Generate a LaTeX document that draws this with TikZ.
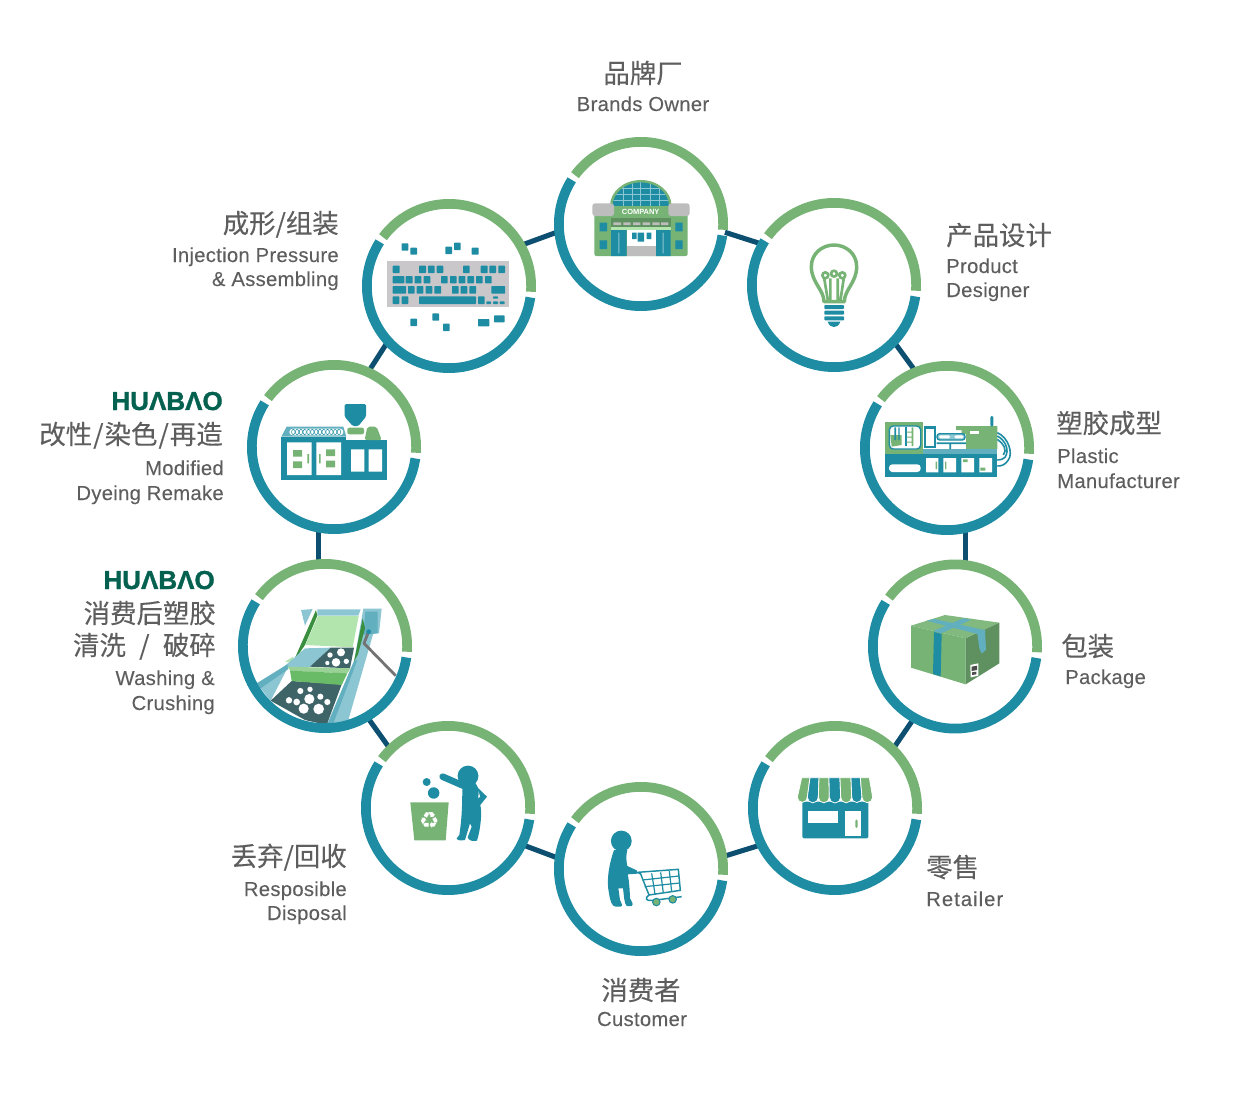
\documentclass[tikz,border=0pt]{standalone}
\usepackage{fontspec}
\setmainfont{Liberation Sans}
\newfontfamily\cjk{Noto Sans CJK SC}[FakeBold=0.25]
\newfontfamily\symb{DejaVu Sans}
\newfontfamily\latinsp{Liberation Sans}[LetterSpace=1.4,FakeBold=0.12]
\newfontfamily\logofont{Liberation Sans}[BoldFont={Liberation Sans Bold},BoldFeatures={FakeBold=1.2}]
\definecolor{tealc}{HTML}{1E8CA3}
\definecolor{greenc}{HTML}{76B374}
\definecolor{navy}{HTML}{0C4F70}
\definecolor{txt}{HTML}{5E5E5E}
\definecolor{logoc}{HTML}{04614F}
\definecolor{lblue}{HTML}{8CC6D3}
\definecolor{mblue}{HTML}{62AFBF}
\definecolor{slate}{HTML}{3F6468}
\definecolor{greyc}{HTML}{BDBDBD}
\definecolor{kbgrey}{HTML}{C9C7C9}
\definecolor{darkg}{HTML}{3A8F3F}
\definecolor{paleg}{HTML}{B2E5AD}
\definecolor{boxside}{HTML}{5F9160}
\tikzset{
  ringnode/.style={circle,minimum size=130.5pt,inner sep=0pt,outer sep=0pt},
  greenarc/.style={draw=greenc,line width=7.3pt},
  tealarc/.style={draw=tealc,line width=7.3pt},
  link/.style={draw=navy,line width=3.8pt,shorten <=-2pt,shorten >=-2pt},
  zh/.style={font=\cjk\fontsize{19.8pt}{20pt}\selectfont,text=txt,inner sep=0pt},
  en/.style={font=\latinsp\fontsize{15.2pt}{16pt}\selectfont,text=txt,inner sep=0pt},
  logo/.style={font=\logofont\fontsize{19.5pt}{20pt}\selectfont\bfseries,text=logoc,inner sep=0pt},
  zm/.style 2 args={shift={(#1,#2)},x=0.25pt,y=-0.25pt},
  key/.style={fill=tealc,rounded corners=0.5pt},
}
\newcommand\ringarcs[1]{%
  \path[greenarc] (#1.center) ++(-4:61.6pt) arc[start angle=-4,end angle=143.5,radius=61.6pt];
  \path[tealarc] (#1.center) ++(147.5:61.6pt) arc[start angle=147.5,end angle=352,radius=61.6pt];
}
\newcommand\kk[4]{\path[key] (#1,#2) rectangle (#3,#4);}
\begin{document}
\begin{tikzpicture}[x=0.75pt,y=-0.75pt]
\useasboundingbox (0,0) rectangle (1250,1093);
% ring nodes
\node[ringnode] (brand) at (641,224) {};
\node[ringnode] (bulb) at (834,285) {};
\node[ringnode] (plastic) at (947,448) {};
\node[ringnode] (pack) at (955,646.5) {};
\node[ringnode] (retail) at (835,808) {};
\node[ringnode] (cust) at (641,869) {};
\node[ringnode] (disp) at (448,808) {};
\node[ringnode] (wash) at (325,646) {};
\node[ringnode] (modif) at (334,447) {};
\node[ringnode] (inj) at (449,286) {};
% connectors
\path[link] (brand.-6) -- (bulb.151);
\path[link] (bulb.-44.5) -- (plastic.113.6);
\path[link] (plastic.-78.7) -- (plastic.-78.7 |- pack.84);
\path[link] (pack.-120.5) -- (retail.46.8);
\path[link] (retail.206.3) -- (cust.9.2);
\path[link] (cust.172) -- (disp.-26.3);
\path[link] (disp.134) -- (wash.-59.4);
\path[link] (wash.94.6 -| modif.-100.5) -- (modif.-100.5);
\path[link] (modif.65.5) -- (inj.223.6);
\path[link] (inj.29.5) -- (brand.186);

% ---- brand icon
\begin{scope}[zm={540}{120}]
\fill[greenc] (210,258) arc[start angle=180,end angle=0,x radius=23.1pt,y radius=19.5pt] -- cycle;
\begin{scope}
\clip (218,258) arc[start angle=180,end angle=0,x radius=21.1pt,y radius=17.7pt] -- cycle;
\fill[tealc] (210,180) rectangle (395,260);
\draw[lblue,line width=0.4pt] (210,205) -- (395,205) (210,222) -- (395,222) (210,240) -- (395,240);
\draw[lblue,line width=0.4pt] (250,180) -- (250,260) (277,180) -- (277,260) (302,180) -- (302,260) (330,180) -- (330,260) (357,180) -- (357,260);
\end{scope}
\fill[greenc,rounded corners=1.5pt] (163,258) rectangle (443,408);
\fill[greyc,rounded corners=2pt] (157,250) rectangle (222,288);
\fill[greyc,rounded corners=2pt] (385,250) rectangle (449,288);
\node[inner sep=0pt,text=white,font=\bfseries\fontsize{5.6pt}{6pt}\selectfont] (companytxt) at (302,275) {COMPANY};
\fill[boxside] (213,293) rectangle (392,320);
\fill[greyc] \foreach \a/\b in {220/243,250/272,279/301,308/330,337/359,363/385}{(\a,307) rectangle (\b,315)};
\fill[paleg] (213,320) rectangle (392,330);
\fill[tealc] (213,330) rectangle (260,408) (347,330) rectangle (392,408);
\fill[lblue] (235,338) rectangle (238,400) (368,338) rectangle (371,400);
\fill[white] (260,330) rectangle (347,378);
\fill[greyc] (260,378) rectangle (347,408);
\fill[tealc] (276,338) rectangle (290,357) (293,338) rectangle (312,365) (320,338) rectangle (334,357);
\fill[tealc] (179,308) rectangle (201,334) (179,361) rectangle (201,387) (406,308) rectangle (428,334) (406,361) rectangle (428,387);
\end{scope}

% ---- bulb icon
\begin{scope}[zm={745}{195}]
\draw[greenc,line width=2.6pt,line join=round] (237,320) .. controls (237,285) and (199,262) .. (199,215) .. controls (199,175) and (232,150) .. (267,150) .. controls (302,150) and (335,175) .. (335,215) .. controls (335,262) and (298,285) .. (298,320) -- cycle;
\draw[greenc,line width=2pt] (241,241) circle[radius=2.2pt] (267,236) circle[radius=2.2pt] (292,241) circle[radius=2.2pt];
\draw[greenc,line width=2pt] (238,252) -- (249,318) (256,250) -- (256,318) (278,250) -- (278,318) (296,252) -- (286,318);
\fill[tealc,rounded corners=0.6pt] (238,330) rectangle (297,342) (238,347) rectangle (297,359) (238,364) rectangle (297,376);
\fill[tealc] (248,380) -- (286,380) .. controls (282,392) and (274,396) .. (267,396) .. controls (260,396) and (252,392) .. (248,380) -- cycle;
\end{scope}

% ---- plastic machine
\begin{scope}[zm={855}{360}]
\fill[greenc] (91,186) rectangle (205,281);
\fill[white,draw=tealc,line width=1pt,rounded corners=3pt] (103,198) rectangle (197,267);
\fill[greenc] (106,225) -- (140,225) -- (140,255) -- (110,260) -- cycle;
\fill[tealc] (118,202) rectangle (123,240) (130,202) rectangle (134,240);
\fill[tealc] (149,202) rectangle (155,258);
\fill[greenc] (170,202) rectangle (175,258) (155,215) rectangle (170,218) (155,230) rectangle (170,233) (155,245) rectangle (170,248);
\fill[greenc] (303,198) -- (427,198) -- (427,267) -- (333,267) -- (333,222) -- (320,222) -- (320,210) -- (303,210) -- cycle;
\fill[white] (345,212) rectangle (372,222);
\fill[tealc] (207,198) rectangle (243,265);
\fill[white] (212,206) rectangle (238,258);
\fill[mblue] (205,267) rectangle (427,281);
\fill[tealc] (91,281) rectangle (427,350);
\fill[white,rounded corners=2.5pt] (102,313) rectangle (197,336);
\fill[white] (213,294) rectangle (250,337) (265,294) rectangle (303,337) (319,294) rectangle (357,337) (373,294) rectangle (411,337);
\fill[greenc] (242,305) rectangle (246,327) (270,305) rectangle (274,327) (324,298) rectangle (338,306) (376,323) rectangle (391,332);
\fill[lblue,draw=tealc,line width=1pt,rounded corners=2pt] (246,221) rectangle (330,240);
\fill[white,rounded corners=1pt] (252,226) rectangle (285,235) (298,226) rectangle (325,235);
\fill[tealc] (245,247) rectangle (333,252) (283,250) rectangle (288,267);
\fill[tealc,rounded corners=1pt] (406,168) rectangle (415,200);
\draw[tealc,line width=1.2pt] (427,218) .. controls (460,232) and (475,280) .. (460,300) .. controls (450,315) and (440,318) .. (427,318);
\draw[tealc,line width=1.2pt] (427,228) .. controls (450,240) and (465,270) .. (450,292) .. controls (445,298) and (435,300) .. (427,300);
\draw[tealc,line width=1.2pt] (427,238) .. controls (445,250) and (458,270) .. (445,285);
\end{scope}

% ---- package
\begin{scope}[zm={865}{555}]
\fill[greenc!92!white] (138,212) -- (240,180) -- (403,203) -- (302,250) -- cycle;
\fill[greenc] (138,212) -- (302,250) -- (302,388) -- (138,338) -- cycle;
\fill[boxside] (302,250) -- (403,203) -- (403,325) -- (302,388) -- cycle;
\fill[mblue] (185,197) -- (208,192) -- (362,226) -- (337,237) -- cycle;
\fill[mblue] (205,228) -- (295,190) -- (318,194) -- (228,235) -- cycle;
\fill[mblue] (337,236) -- (360,224) -- (363,284) -- (350,296) -- (343,280) -- cycle;
\fill[tealc] (207,231) -- (230,237) -- (227,364) -- (204,357) -- cycle;
\fill[white] (316,330) -- (340,325) -- (340,362) -- (317,367) -- cycle;
\fill[black!70] (320,335) -- (336,332) -- (336,345) -- (320,348) -- cycle;
\fill[black!70] (321,352) -- (334,350) -- (334,358) -- (321,360) -- cycle;
\end{scope}

% ---- retailer
\begin{scope}[zm={750}{720}]
\fill[tealc,rounded corners=1pt] (157,245) rectangle (355,355);
\fill[white] (175,274) rectangle (264,310);
\fill[white] (285,272) rectangle (332,349);
\fill[greenc,rounded corners=1pt] (316,298) rectangle (323,324);
\foreach \ta/\tb/\ba/\bb/\c in {155/180/142/172/greenc,180/207/172/205/tealc,207/237/205/238/greenc,237/270/238/272/tealc,270/303/272/305/greenc,303/331/305/336/tealc,331/358/336/368/greenc}{
  \fill[\c,draw=white,line width=0.6pt] (\ta,173) -- (\tb,173) -- (\bb,232) arc[start angle=0,end angle=-180,radius=0.125pt*(\bb-\ba)] -- cycle;
}
\end{scope}

% ---- customer
\begin{scope}[zm={550}{780}]
\fill[tealc] (214,183) circle[radius=7.8pt];
\fill[tealc] (192,210) .. controls (178,250) and (168,300) .. (177,340) .. controls (180,360) and (185,380) .. (197,380) -- (212,380) .. controls (220,377) and (214,370) .. (210,360) -- (205,325) -- (219,325) .. controls (222,345) and (222,370) .. (230,378) -- (245,378) .. controls (252,372) and (245,365) .. (240,355) .. controls (239,330) and (238,305) .. (233,283) -- (262,281) -- (260,271) -- (232,258) .. controls (228,240) and (228,225) .. (232,210) -- cycle;
\draw[tealc,line width=1.1pt] (262,277) -- (272,282) -- (297,345) -- (391,331) -- (385,268) -- cycle;
\draw[tealc,line width=0.9pt] (277,300) -- (387,288) (284,320) -- (389,309) (305,280) -- (315,342) (332,277) -- (340,339) (358,273) -- (365,335);
\draw[tealc,line width=1.1pt] (297,345) -- (290,352) .. controls (285,362) and (300,362) .. (310,361) -- (395,350);
\fill[greenc,draw=tealc,line width=0.8pt] (319,366) circle[radius=2.8pt] (368,358) circle[radius=2.8pt];
\end{scope}

% ---- disposal
\begin{scope}[zm={355}{720}]
\fill[greenc] (166,247) -- (281,247) -- (272,361) -- (178,361) -- cycle;
\node[inner sep=0pt,text=white,font=\symb\fontsize{17pt}{17pt}\selectfont] (recyc) at (223,302) {♻};
\fill[tealc] (215,186) circle[radius=3pt] (236,219) circle[radius=4.3pt];
\fill[tealc] (339,168) circle[radius=7.8pt];
\draw[tealc,line width=5pt,line cap=round] (263,170) -- (325,197);
\fill[tealc] (322,190) .. controls (322,260) and (320,300) .. (313,345) -- (305,355) .. controls (306,362) and (318,362) .. (330,360) -- (345,310) -- (350,320) -- (338,352) .. controls (340,362) and (355,365) .. (366,362) .. controls (376,330) and (382,280) .. (376,255) -- (396,230) -- (370,205) -- (362,190) -- cycle;
\fill[white] (371,214) -- (375,230) -- (370,235) -- cycle;
\end{scope}

% ---- washing
\begin{scope}[zm={230}{555}]
\begin{scope}
\clip (285,273) circle[radius=61.6pt];
\fill[lblue] (213,165) -- (248,162) -- (225,212) -- cycle;
\fill[lblue] (262,163) -- (392,163) -- (385,182) -- (262,182) -- cycle;
\fill[lblue] (400,161) -- (455,161) -- (447,235) -- (430,235) -- (355,495) -- (290,510) -- (372,320) -- cycle;
\fill[mblue] (406,170) -- (443,170) -- (443,235) -- (400,240) -- cycle;
\fill[darkg] (258,165) -- (190,320) -- (225,270) -- (262,182) -- cycle;
\fill[darkg] (398,190) -- (372,320) -- (384,298) -- (405,220) -- cycle;
\fill[paleg] (264,183) -- (386,183) -- (368,277) -- (226,270) -- cycle;
\fill[paleg] (165,320) -- (190,305) -- (188,323) -- cycle;
\fill[lblue] (225,280) -- (302,278) -- (240,336) -- (174,336) -- (122,437) -- (90,398) -- cycle;
\fill[mblue] (80,385) -- (172,328) -- (175,342) -- (92,400) -- cycle;
\fill[slate] (302,278) -- (372,278) -- (360,340) -- (240,335) -- cycle;
\fill[white] (333,292) circle[radius=3pt] (300,300) circle[radius=2pt] (318,322) circle[radius=3.2pt] (349,319) circle[radius=2pt] (292,324) circle[radius=1.6pt];
\fill[slate] (185,378) -- (335,388) -- (290,510) -- (225,495) -- (122,437) -- cycle;
\fill[white] (211,408) circle[radius=2.3pt] (240,403) circle[radius=2pt] (177,436) circle[radius=2.4pt] (200,441) circle[radius=2.5pt] (238,432) circle[radius=3.8pt] (271,425) circle[radius=2.3pt] (292,441) circle[radius=2.3pt] (221,461) circle[radius=3.8pt] (266,462) circle[radius=4pt];
\fill[paleg!60!greenc] (172,335) -- (362,340) -- (352,355) -- (182,348) -- cycle;
\fill[greenc!90!green] (180,347) -- (352,355) -- (335,390) -- (185,378) -- cycle;
\fill[mblue] (292,510) -- (372,318) -- (382,315) -- (310,505) -- cycle;
\draw[black!55,line width=2.1pt,line join=round] (415,232) -- (402,265) -- (497,362);
\fill[tealc] (416,230) circle[radius=1.8pt];
\end{scope}
\end{scope}

% ---- modified
\begin{scope}[zm={230}{355}]
\fill[mblue] (154,245) -- (170,215) -- (340,215) -- (349,245) -- cycle;
\fill[white,rounded corners=2.5pt] (178,221) rectangle (340,241);
\foreach \i in {0,...,12}{\draw[tealc,line width=0.4pt] (190+\i*11.4,231) ellipse[x radius=1.3pt,y radius=2pt];}
\fill[tealc] (154,245) rectangle (349,376);
\fill[white] (171,262) rectangle (245,360) (259,262) rectangle (333,360);
\fill[greenc] (189,285) rectangle (216,305) (189,319) rectangle (216,339) (288,283) rectangle (315,303) (288,317) rectangle (315,337) (232,297) rectangle (237,325) (267,297) rectangle (272,325);
\fill[tealc] (349,255) rectangle (471,376);
\fill[white] (363,283) rectangle (403,350) (416,283) rectangle (456,350);
\fill[tealc,rounded corners=1pt] (344,147) -- (408,147) -- (408,185) -- (385,213) -- (368,213) -- (344,185) -- cycle;
\fill[greenc,rounded corners=1.5pt] (352,218) rectangle (402,238);
\fill[greenc,rounded corners=1.5pt] (412,215) -- (440,215) -- (455,255) -- (404,255) -- cycle;
\end{scope}

% ---- injection keyboard
\begin{scope}[zm={350}{190}]
\fill[kbgrey] (111,213) rectangle (478,351);
\foreach \a/\b in {128/149,207/228,234/254,260/280,339/359,392/413,418/438,445/465}{\kk{\a}{227}{\b}{249}}
\foreach \a/\b in {128/163,167/188,194/214,221/241,273/293,300/320,326/346,352/372,378/398,405/425}{\kk{\a}{258}{\b}{280}}
\foreach \a/\b in {128/168,174/194,200/220,227/247,253/273,306/326,332/352,358/378,424/465}{\kk{\a}{288}{\b}{311}}
\foreach \a/\b in {128/148,155/175,207/378,384/404}{\kk{\a}{319}{\b}{342}}
\kk{409}{334}{423}{342}\kk{429}{319}{444}{326}\kk{429}{334}{444}{342}\kk{449}{334}{464}{342}
\kk{155}{160}{175}{182}\kk{181}{173}{201}{194}\kk{286}{170}{306}{192}\kk{312}{158}{332}{180}\kk{365}{173}{386}{194}
\kk{181}{386}{201}{408}\kk{247}{370}{267}{392}\kk{279}{401}{299}{423}\kk{384}{387}{418}{409}\kk{432}{376}{464}{397}
\end{scope}

% rings
\foreach \n in {brand,bulb,plastic,pack,retail,cust,disp,wash,modif,inj}{\ringarcs{\n}}

% labels
\node[zh,anchor=base] (t1a) at (643,83) {品牌厂};
\node[en,anchor=base] (t1b) at (643,111) {Brands Owner};
\node[zh,anchor=base west] (t2a) at (946,245) {产品设计};
\node[en,anchor=base west] (t2b) at (946,273) {Product};
\node[en,anchor=base west] (t2c) at (946,297) {Designer};
\node[zh,anchor=base west] (t3a) at (1056,433) {塑胶成型};
\node[en,anchor=base west] (t3b) at (1057,463) {Plastic};
\node[en,anchor=base west] (t3c) at (1057,488) {Manufacturer};
\node[zh,anchor=base west] (t4a) at (1061,656) {包装};
\node[en,anchor=base west] (t4b) at (1065,684) {Package};
\node[zh,anchor=base west] (t5a) at (926,877) {零售};
\node[en,anchor=base west] (t5b) at (926,906) {{\addfontfeature{LetterSpace=5}Retailer}};
\node[zh,anchor=base] (t6a) at (641,1000) {消费者};
\node[en,anchor=base] (t6b) at (642,1026) {Customer};
\node[zh,anchor=base east] (t7a) at (347,866) {丢弃/回收};
\node[en,anchor=base east] (t7b) at (347,896) {Resposible};
\node[en,anchor=base east] (t7c) at (347,920) {Disposal};
\node[logo,anchor=base east] (t8l) at (215,589) {HUΛBΛO};
\node[zh,anchor=base east] (t8a) at (216,623) {消费后塑胶};
\node[zh,anchor=base east] (t8b) at (216,655) {清洗\hspace{10pt}/\hspace{10pt}破碎};
\node[en,anchor=base east] (t8c) at (215,685) {Washing \&};
\node[en,anchor=base east] (t8d) at (215,710) {Crushing};
\node[logo,anchor=base east] (t9l) at (223,410) {HUΛBΛO};
\node[zh,anchor=base east] (t9a) at (223,444) {改性\kern0.8pt/\kern0.8pt染色\kern0.8pt/\kern0.8pt再造};
\node[en,anchor=base east] (t9b) at (224,475) {Modified};
\node[en,anchor=base east] (t9c) at (224,500) {Dyeing Remake};
\node[zh,anchor=base east] (t10a) at (339,233) {成形/组装};
\node[en,anchor=base east] (t10b) at (339,262) {Injection Pressure};
\node[en,anchor=base east] (t10c) at (339,286) {\& Assembling};
\end{tikzpicture}
\end{document}
